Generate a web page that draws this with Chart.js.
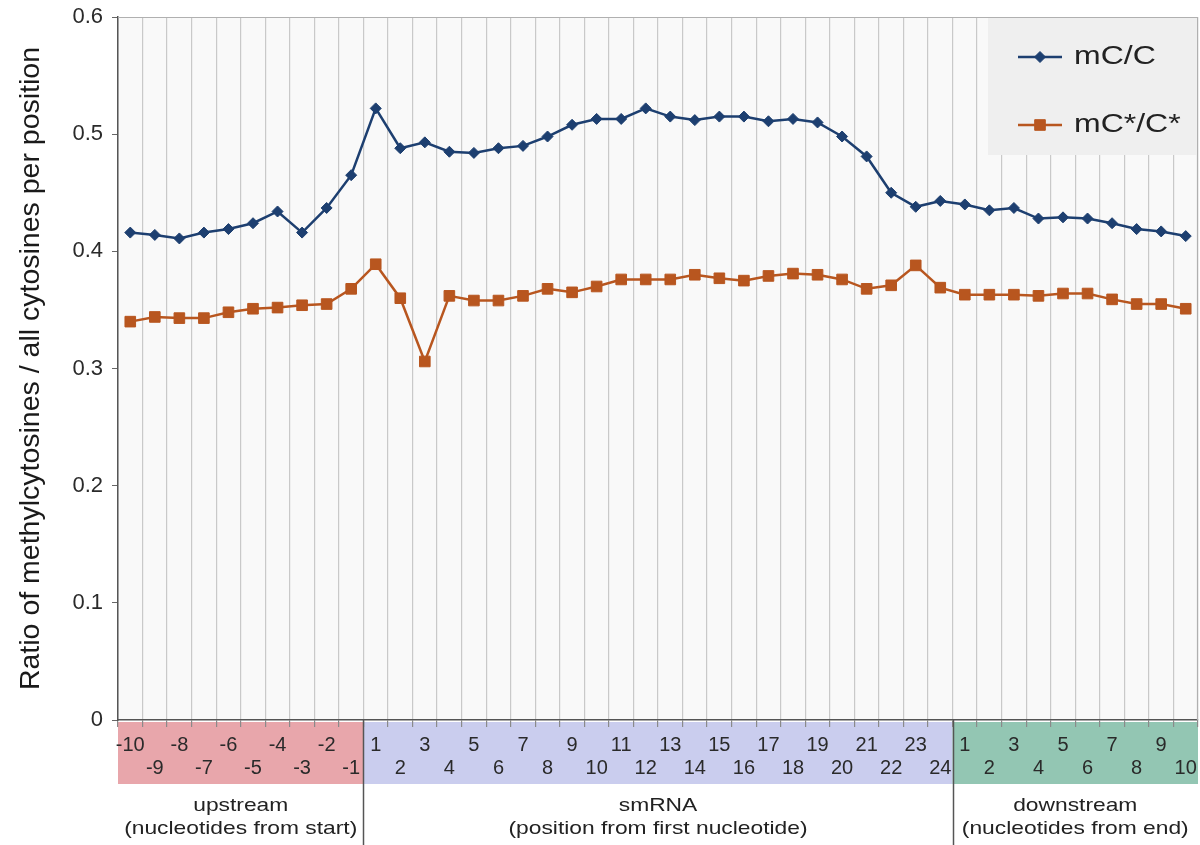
<!DOCTYPE html>
<html>
<head>
<meta charset="utf-8">
<script src="https://cdn.jsdelivr.net/npm/chart.js@4/dist/chart.umd.min.js"></script>
<style>
  html, body { margin: 0; padding: 0; background: #ffffff; }
  #wrap { width: 1200px; height: 845px; }
</style>
</head>
<body>
<div id="wrap"><canvas id="chart" width="1200" height="845"></canvas></div>
<script>
// Positions along the sequence: 10 upstream, 24 inside the smRNA, 10 downstream
const upstreamPositions   = ['-10', '-9', '-8', '-7', '-6', '-5', '-4', '-3', '-2', '-1'];
const smrnaPositions      = ['1', '2', '3', '4', '5', '6', '7', '8', '9', '10', '11', '12',
                             '13', '14', '15', '16', '17', '18', '19', '20', '21', '22', '23', '24'];
const downstreamPositions = ['1', '2', '3', '4', '5', '6', '7', '8', '9', '10'];

// Ratio of methylated to all cytosines at each position
const mcRatio = [
  0.416, 0.414, 0.411, 0.416, 0.419, 0.424, 0.434, 0.416, 0.437, 0.465,
  0.522, 0.488, 0.493, 0.485, 0.484, 0.488, 0.490, 0.498, 0.508, 0.513, 0.513, 0.522,
  0.515, 0.512, 0.515, 0.515, 0.511, 0.513, 0.510, 0.498, 0.481, 0.450, 0.438, 0.443,
  0.440, 0.435, 0.437, 0.428, 0.429, 0.428, 0.424, 0.419, 0.417, 0.413
];
const mcStarRatio = [
  0.340, 0.344, 0.343, 0.343, 0.348, 0.351, 0.352, 0.354, 0.355, 0.368,
  0.389, 0.360, 0.306, 0.362, 0.358, 0.358, 0.362, 0.368, 0.365, 0.370, 0.376, 0.376,
  0.376, 0.380, 0.377, 0.375, 0.379, 0.381, 0.380, 0.376, 0.368, 0.371, 0.388, 0.369,
  0.363, 0.363, 0.363, 0.362, 0.364, 0.364, 0.359, 0.355, 0.355, 0.351
];

const yTicks = [0, 0.1, 0.2, 0.3, 0.4, 0.5, 0.6];

const regions = [
  { title: 'upstream',   subtitle: '(nucleotides from start)',         positions: upstreamPositions,   fill: '#e8a6ab' },
  { title: 'smRNA',      subtitle: '(position from first nucleotide)', positions: smrnaPositions,      fill: '#cacdee' },
  { title: 'downstream', subtitle: '(nucleotides from end)',           positions: downstreamPositions, fill: '#93c6b3' }
];

const seriesNames = ['mC/C', 'mC*/C*'];
const blue = '#1d3f70';
const orange = '#b8561f';
const FONT = '"Liberation Sans", Arial, sans-serif';

const categories = regions.flatMap(r => r.positions);

// Draws text widened horizontally around (x, y)
function wideText(ctx, text, x, y, stretch, align) {
  ctx.save();
  ctx.translate(x, y);
  ctx.scale(stretch, 1);
  ctx.textAlign = align;
  ctx.fillText(text, 0, 0);
  ctx.restore();
}

// Background of the plotting area and its frame
const plotFrame = {
  id: 'plotFrame',
  beforeDraw(chart) {
    const { ctx, chartArea: a } = chart;
    ctx.save();
    ctx.fillStyle = '#f9f9f9';
    ctx.fillRect(a.left, a.top, a.right - a.left, a.bottom - a.top);
    ctx.restore();
  },
  afterDatasetsDraw(chart) {
    const { ctx, chartArea: a } = chart;
    ctx.save();
    ctx.strokeStyle = '#b0b0b0';
    ctx.lineWidth = 1.2;
    ctx.beginPath();
    ctx.moveTo(a.left, a.top + 0.5);
    ctx.lineTo(a.right - 0.5, a.top + 0.5);
    ctx.lineTo(a.right - 0.5, a.bottom);
    ctx.stroke();
    ctx.restore();
  }
};

// Coloured bands behind the position labels, region names and separators
const regionBands = {
  id: 'regionBands',
  beforeDraw(chart) {
    const { ctx, chartArea: a } = chart;
    const x = chart.scales.x;
    const half = (x.getPixelForValue(1) - x.getPixelForValue(0)) / 2;
    ctx.save();
    let start = 0;
    regions.forEach(r => {
      const x0 = x.getPixelForValue(start) - half;
      const x1 = x.getPixelForValue(start + r.positions.length - 1) + half;
      ctx.fillStyle = r.fill;
      ctx.fillRect(x0, a.bottom + 2, x1 - x0, 62);
      start += r.positions.length;
    });
    ctx.restore();
  },
  afterDraw(chart) {
    const { ctx, chartArea: a } = chart;
    const x = chart.scales.x;
    const half = (x.getPixelForValue(1) - x.getPixelForValue(0)) / 2;
    ctx.save();
    let start = 0;
    regions.forEach((r, i) => {
      const x0 = x.getPixelForValue(start) - half;
      const x1 = x.getPixelForValue(start + r.positions.length - 1) + half;
      const cx = (x0 + x1) / 2;
      ctx.fillStyle = '#222222';
      ctx.font = '19px ' + FONT;
      ctx.textBaseline = 'middle';
      wideText(ctx, r.title, cx, a.bottom + 86, 1.2, 'center');
      wideText(ctx, r.subtitle, cx, a.bottom + 109, 1.2, 'center');
      if (i > 0) {
        ctx.strokeStyle = '#555555';
        ctx.lineWidth = 1.5;
        ctx.beginPath();
        ctx.moveTo(Math.round(x0) + 0.5, a.bottom);
        ctx.lineTo(Math.round(x0) + 0.5, chart.height);
        ctx.stroke();
      }
      start += r.positions.length;
    });
    ctx.restore();
  }
};

// Legend box in the upper right corner of the plot
const cornerLegend = {
  id: 'cornerLegend',
  afterDraw(chart) {
    const { ctx, chartArea: a } = chart;
    ctx.save();
    ctx.fillStyle = '#efefef';
    ctx.fillRect(988, a.top + 1, a.right - 988 - 1, 137);
    const rows = [a.top + 40, a.top + 108];
    chart.data.datasets.forEach((ds, i) => {
      const y = rows[i];
      ctx.strokeStyle = ds.borderColor;
      ctx.lineWidth = 2.5;
      ctx.beginPath();
      ctx.moveTo(1018, y);
      ctx.lineTo(1062, y);
      ctx.stroke();
      ctx.fillStyle = ds.pointBackgroundColor;
      ctx.strokeStyle = ds.pointBorderColor;
      ctx.lineWidth = 1;
      Chart.helpers.drawPoint(ctx, {
        pointStyle: ds.pointStyle,
        radius: ds.pointRadius,
        borderWidth: 1
      }, 1040, y);
      ctx.fillStyle = '#222222';
      ctx.font = '25px ' + FONT;
      ctx.textBaseline = 'middle';
      wideText(ctx, ds.label, 1074, y, 1.28, 'left');
    });
    ctx.restore();
  }
};

new Chart(document.getElementById('chart'), {
  type: 'line',
  data: {
    labels: categories,
    datasets: [
      {
        label: seriesNames[0],
        data: mcRatio,
        borderColor: blue,
        backgroundColor: blue,
        pointBackgroundColor: blue,
        pointBorderColor: blue,
        borderWidth: 2.5,
        pointStyle: 'rectRot',
        pointRadius: 5.5,
        pointBorderWidth: 1,
        tension: 0
      },
      {
        label: seriesNames[1],
        data: mcStarRatio,
        borderColor: orange,
        backgroundColor: orange,
        pointBackgroundColor: orange,
        pointBorderColor: orange,
        borderWidth: 2.5,
        pointStyle: 'rect',
        pointRadius: 7.5,
        pointBorderWidth: 1,
        tension: 0
      }
    ]
  },
  options: {
    responsive: false,
    animation: false,
    devicePixelRatio: 1,
    layout: { autoPadding: false, padding: { top: 17, right: 2, left: 0, bottom: 0 } },
    plugins: {
      legend: { display: false },
      tooltip: { enabled: false }
    },
    scales: {
      x: {
        type: 'category',
        offset: true,
        grid: {
          offset: true,
          color: '#c9c9c9',
          lineWidth: 1.2,
          tickLength: 7,
          tickColor: '#8a8a8a'
        },
        border: { color: '#555555', width: 1.5 },
        ticks: {
          autoSkip: false,
          maxRotation: 0,
          minRotation: 0,
          padding: 7,
          color: '#2a2a2a',
          font: { family: FONT, size: 20, lineHeight: 1.15 },
          callback(value, index) {
            const label = categories[index];
            return index % 2 === 0 ? [label, ''] : ['', label];
          }
        },
        afterFit(scale) {
          scale.height = 125;
          // the edge labels sit inside their slots, so no side padding is needed
          scale.paddingLeft = 0;
          scale.paddingRight = 0;
        }
      },
      y: {
        min: 0,
        max: 0.6,
        afterBuildTicks(scale) { scale.ticks = yTicks.map(v => ({ value: v })); },
        grid: {
          drawOnChartArea: false,
          tickLength: 6,
          tickColor: '#666666'
        },
        border: { color: '#555555', width: 1.5 },
        ticks: {
          padding: 9,
          color: '#2a2a2a',
          font: { family: FONT, size: 22 },
          callback(value) { return value === 0 ? '0' : Number(value).toFixed(1); }
        },
        title: {
          display: true,
          text: 'Ratio of methylcytosines / all cytosines per position',
          color: '#1a1a1a',
          font: { family: FONT, size: 28.5 },
          padding: { top: 14, bottom: 0 }
        },
        afterFit(scale) {
          scale.width = 118;
          // top tick label fits inside the outer padding
          scale.paddingTop = 0;
          scale.paddingBottom = 0;
        }
      }
    }
  },
  plugins: [plotFrame, regionBands, cornerLegend]
});
</script>
</body>
</html>
